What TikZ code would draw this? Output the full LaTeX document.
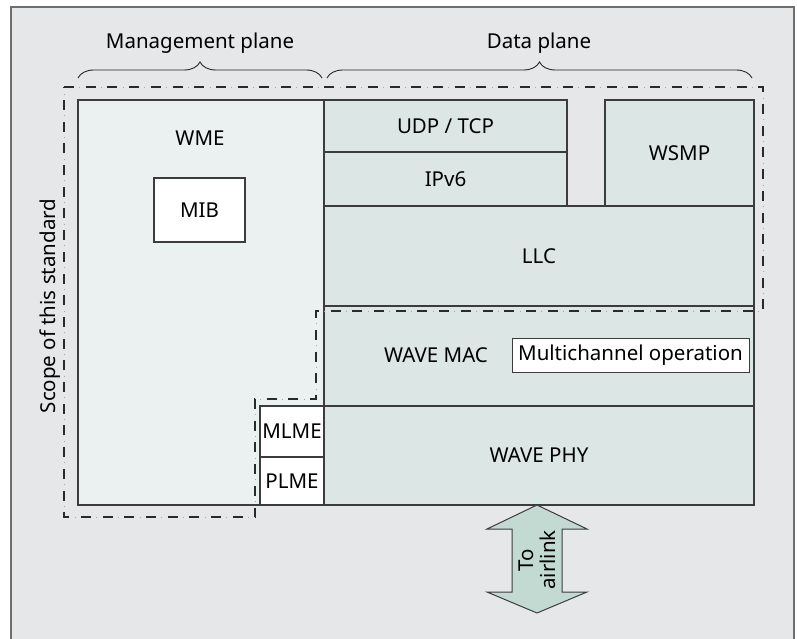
\documentclass[tikz,border=0pt]{standalone}
\usepackage{fontspec}
\setmainfont{Noto Sans}
\usetikzlibrary{decorations.pathreplacing}
\definecolor{framebg}{HTML}{E6E7E9}
\definecolor{frameline}{HTML}{6E6E6E}
\definecolor{wmefill}{HTML}{EBF1F1}
\definecolor{layerfill}{HTML}{DCE7E5}
\definecolor{arrowfill}{HTML}{C3DAD3}
\definecolor{boxline}{HTML}{3C3C3C}
\definecolor{dashdark}{HTML}{2A2A2A}
\definecolor{dashlight}{HTML}{A8A8A8}
\begin{document}
\begin{tikzpicture}[x=1pt,y=-1pt,
  every node/.style={font=\fontsize{20.5}{22}\selectfont, text=black},
  rbox/.style={draw=boxline, line width=1.3pt, inner sep=0pt, outer sep=0pt, anchor=north west},
  layer/.style={rbox, fill=layerfill},
  wmebox/.style={rbox, fill=wmefill},
  whitebox/.style={rbox, fill=white},
  scopedash/.style={draw=dashdark, line width=2.8pt, dash pattern=on 10pt off 11.7pt},
  scopedot/.style={draw=dashlight, line width=0.8pt, dash pattern=on 1pt off 20.7pt, dash phase=6.35pt},
  planebrace/.style={draw=black!85, line width=0.9pt, decorate, decoration={brace, amplitude=16pt}},
  airarrow/.style={draw=boxline, line width=1pt, fill=arrowfill}
]
\useasboundingbox (0,0) rectangle (797,639);
\fill[white] (0,0) rectangle (797,639);
\draw[fill=framebg, draw=frameline, line width=1.2pt] (11,7) rectangle (794,650);

% plane braces and labels
\draw[planebrace] (78,78) -- (322,78);
\draw[planebrace] (327,78) -- (752,78);
\node (mgmt) at (200,43) {Management plane};
\node (data) at (539,43) {Data plane};

% WME
\node[wmebox, minimum width=246pt, minimum height=405pt] (wme) at (78,100) {};
\node (wmelabel) at (200,138) {WME};
\node[whitebox, minimum width=91pt, minimum height=64pt] (mib) at (154,178) {MIB};

% upper layers
\node[layer, minimum width=243pt, minimum height=52pt] (udp) at (324,100) {UDP / TCP};
\node[layer, minimum width=243pt, minimum height=54pt] (ipv6) at (324,152) {IPv6};
\node[layer, minimum width=149pt, minimum height=106pt] (wsmp) at (605,100) {WSMP};
\node[layer, minimum width=430pt, minimum height=100pt] (llc) at (324,206) {LLC};

% MAC / PHY
\node[layer, minimum width=430pt, minimum height=100pt] (mac) at (324,306) {};
\node (maclabel) at (436,355) {WAVE MAC};
\node[whitebox, line width=1pt, minimum width=237pt, minimum height=34pt] (multi) at (512,338) {Multichannel operation};
\node[layer, minimum width=430pt, minimum height=99pt] (phy) at (324,406) {WAVE PHY};
\node[whitebox, minimum width=64pt, minimum height=51pt] (mlme) at (260,406) {MLME};
\node[whitebox, minimum width=64pt, minimum height=48pt] (plme) at (260,457) {PLME};

% scope boundary
\path[scopedash] (64,87) -- (763,87) -- (763,311) -- (316,311) -- (316,399) -- (255,399) -- (255,517) -- (64,517) -- cycle;
\path[scopedot] (64,87) -- (763,87) -- (763,311) -- (316,311) -- (316,399) -- (255,399) -- (255,517) -- (64,517) -- cycle;
\node[rotate=90] (scope) at (50,306) {Scope of this standard};

% airlink arrow
\draw[airarrow] (537,505) -- (587,529) -- (562,529) -- (562,592) -- (587,592) -- (537,613)
  -- (487,592) -- (512,592) -- (512,529) -- (487,529) -- cycle;
\node[rotate=90, align=center] (air) at (537,560) {To\\airlink};
\end{tikzpicture}
\end{document}
